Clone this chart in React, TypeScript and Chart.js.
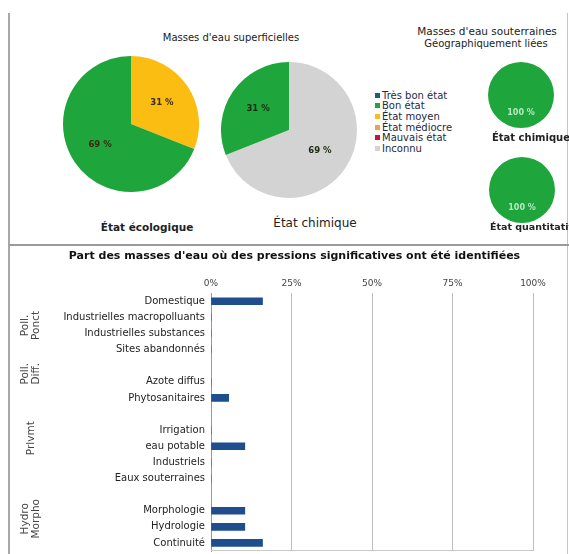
import React, { useEffect, useRef } from 'react';
import { Chart, registerables } from 'chart.js';

Chart.register(...registerables);

// ---------- data ----------
const stateLabels = ['Très bon état', 'Bon état', 'État moyen', 'État médiocre', 'Mauvais état', 'Inconnu'];
const stateColors = ['#1d5e78', '#1ea63c', '#fbbd12', '#f0a050', '#d01040', '#d3d3d3'];
const ecoValues = [0, 69, 31, 0, 0, 0];
const chemValues = [0, 31, 0, 0, 0, 69];
const gwChemValues = [0, 100, 0, 0, 0, 0];
const gwQuantValues = [0, 100, 0, 0, 0, 0];

const pressureLabels = [
  'Domestique', 'Industrielles macropolluants', 'Industrielles substances', 'Sites abandonnés', '',
  'Azote diffus', 'Phytosanitaires', '',
  'Irrigation', 'eau potable', 'Industriels', 'Eaux souterraines', '',
  'Morphologie', 'Hydrologie', 'Continuité',
];
const pressureValues = [16, 0, 0, 0, null, 0, 5.5, null, 0, 10.5, 0, 0, null, 10.5, 10.5, 16];
const groupLabels = [['Poll.', 'Ponct'], ['Poll.', 'Diff.'], ['Prlvmt'], ['Hydro', 'Morpho']];
const groupRanges = [[0, 3], [4, 5], [7, 10], [12, 15]];
const xTicks = [0, 25, 50, 75, 100];

const FONT = '"DejaVu Sans", sans-serif';

// ---------- plugins ----------
const sliceLabelPlugin = {
  id: 'sliceLabels',
  afterDatasetsDraw(chart: any, _args: any, opts: any) {
    const ctx = chart.ctx;
    const meta = chart.getDatasetMeta(0);
    const data = chart.data.datasets[0].data;
    ctx.save();
    ctx.font = `bold ${opts.size}px ${FONT}`;
    ctx.fillStyle = opts.color;
    ctx.textAlign = 'center';
    ctx.textBaseline = 'middle';
    meta.data.forEach((arc: any, i: number) => {
      const v = data[i];
      if (!v) return;
      const p = arc.getProps(['x', 'y', 'startAngle', 'endAngle', 'outerRadius'], true);
      const mid = (p.startAngle + p.endAngle) / 2;
      const r = p.outerRadius * opts.radial;
      ctx.fillText(`${v} %`, p.x + Math.cos(mid) * r, p.y + Math.sin(mid) * r);
    });
    ctx.restore();
  },
};

const groupLabelPlugin = {
  id: 'groupLabels',
  afterDraw(chart: any) {
    const ctx = chart.ctx;
    const y = chart.scales.y;
    ctx.save();
    ctx.font = `10.5px ${FONT}`;
    ctx.fillStyle = '#444';
    ctx.textAlign = 'center';
    ctx.textBaseline = 'middle';
    groupLabels.forEach((lines, g) => {
      const [a, b] = groupRanges[g];
      const cy = (y.getPixelForValue(a) + y.getPixelForValue(b)) / 2;
      lines.forEach((line, k) => {
        const cx = 31 + (k - (lines.length - 1) / 2) * 10.5;
        ctx.save();
        ctx.translate(cx, cy);
        ctx.rotate(-Math.PI / 2);
        ctx.fillText(line, 0, 0);
        ctx.restore();
      });
    });
    ctx.restore();
  },
};

const bottomLinePlugin = {
  id: 'bottomLine',
  afterDraw(chart: any) {
    const { ctx, chartArea } = chart;
    ctx.save();
    ctx.strokeStyle = '#c8c8c8';
    ctx.lineWidth = 1;
    ctx.beginPath();
    ctx.moveTo(chartArea.left, chartArea.bottom - 0.5);
    ctx.lineTo(chartArea.right, chartArea.bottom - 0.5);
    ctx.stroke();
    ctx.restore();
  },
};

// ---------- components ----------
function Pie({ values, left, top, size, labelColor, labelSize }: any) {
  const ref = useRef<HTMLCanvasElement>(null);
  useEffect(() => {
    const order = values.map((_: any, i: number) => i).reverse();
    const chart = new Chart(ref.current as HTMLCanvasElement, {
      type: 'pie',
      data: {
        labels: order.map((i: number) => stateLabels[i]),
        datasets: [{
          data: order.map((i: number) => values[i]),
          backgroundColor: order.map((i: number) => stateColors[i]),
          borderWidth: 0,
        }],
      },
      options: {
        responsive: false,
        animation: false,
        events: [],
        layout: { padding: 0 },
        plugins: {
          legend: { display: false },
          tooltip: { enabled: false },
          sliceLabels: { color: labelColor, size: labelSize, radial: 0.55 },
        } as any,
      },
      plugins: [sliceLabelPlugin],
    });
    return () => chart.destroy();
  }, []);
  return (
    <canvas
      ref={ref}
      width={size}
      height={size}
      style={{ position: 'absolute', left, top, width: size, height: size }}
    />
  );
}

function PressureChart() {
  const ref = useRef<HTMLCanvasElement>(null);
  useEffect(() => {
    const chart = new Chart(ref.current as HTMLCanvasElement, {
      type: 'bar',
      data: {
        labels: pressureLabels,
        datasets: [{
          data: pressureValues as any,
          backgroundColor: '#1f4e8f',
          barThickness: 7,
          borderWidth: 0,
        }],
      },
      options: {
        indexAxis: 'y',
        responsive: false,
        animation: false,
        events: [],
        layout: { padding: { top: 0, right: 36, bottom: 3, left: 56 } },
        plugins: {
          legend: { display: false },
          tooltip: { enabled: false },
          title: {
            display: true,
            text: "Part des masses d'eau où des pressions significatives ont été identifiées",
            font: { family: FONT, size: 11, weight: 'bold' },
            color: '#111',
            padding: { top: 4, bottom: 0 },
          },
        },
        scales: {
          x: {
            position: 'top',
            min: 0,
            max: 100,
            afterBuildTicks: (s: any) => { s.ticks = xTicks.map((v) => ({ value: v })); },
            afterFit: (s: any) => { s.height = 30; },
            ticks: {
              callback: (v: any) => `${v}%`,
              font: { family: FONT, size: 9 },
              color: '#444',
              padding: 4,
            },
            grid: { color: '#bdbdbd', drawTicks: false },
            border: { display: false },
          },
          y: {
            afterFit: (s: any) => { s.width = 155; s.paddingTop = 0; s.paddingBottom = 0; },
            ticks: {
              autoSkip: false,
              font: { family: FONT, size: 10 },
              color: '#222',
              padding: 6,
            },
            grid: { display: false, drawTicks: false },
            border: { color: '#999', width: 1 },
          },
        },
      } as any,
      plugins: [groupLabelPlugin, bottomLinePlugin],
    });
    return () => chart.destroy();
  }, []);
  return (
    <canvas
      ref={ref}
      width={569}
      height={308}
      style={{ position: 'absolute', left: 0, top: 246, width: 569, height: 308 }}
    />
  );
}

function Txt({ x, y, size, weight, color, align, children }: any) {
  const tx = align === 'left' ? '0' : '-50%';
  return (
    <div
      style={{
        position: 'absolute',
        left: x,
        top: y,
        transform: `translate(${tx}, -50%)`,
        whiteSpace: 'nowrap',
        fontSize: size,
        fontWeight: weight || 'normal',
        color: color || '#222',
        lineHeight: 1.1,
        fontFamily: FONT,
      }}
    >
      {children}
    </div>
  );
}

export default function App() {
  return (
    <div
      style={{
        position: 'absolute',
        left: 0,
        top: 0,
        width: 569,
        height: 554,
        overflow: 'hidden',
        background: '#fff',
        fontFamily: FONT,
      }}
    >
      <PressureChart />

      {/* frame */}
      <div style={{ position: 'absolute', left: 8, top: 13, width: 2, height: 541, background: '#a8a8a8' }} />
      <div style={{ position: 'absolute', left: 567, top: 13, width: 1, height: 541, background: '#c4c4c4' }} />
      <div style={{ position: 'absolute', left: 9, top: 244, width: 560, height: 2, background: '#9a9a9a' }} />

      {/* top section */}
      <Txt x={231} y={37} size={10}>Masses d'eau superficielles</Txt>
      <Txt x={487} y={32} size={10.5}>Masses d'eau souterraines</Txt>
      <Txt x={486} y={43} size={10}>Géographiquement liées</Txt>

      <Pie values={ecoValues} left={63} top={56} size={136} labelColor="#3a2a10" labelSize={8.5} />
      <Pie values={chemValues} left={221} top={62} size={136} labelColor="#1a2a10" labelSize={8.5} />
      <Pie values={gwChemValues} left={488} top={62} size={66} labelColor="rgba(235,255,235,0.75)" labelSize={8} />
      <Pie values={gwQuantValues} left={489} top={157} size={66} labelColor="rgba(235,255,235,0.75)" labelSize={8} />

      <Txt x={147} y={228} size={10.5} weight="bold">État écologique</Txt>
      <Txt x={315} y={224} size={12}>État chimique</Txt>
      <Txt x={492} y={137} size={10} weight="bold" align="left">État chimique</Txt>
      <Txt x={490} y={227} size={9.5} weight="bold" align="left">État quantitatif</Txt>

      {/* legend */}
      <div style={{ position: 'absolute', left: 375, top: 90 }}>
        {stateLabels.map((lab, i) => (
          <div key={lab} style={{ display: 'flex', alignItems: 'center', height: 10.6 }}>
            <div style={{ width: 5, height: 5, background: stateColors[i], marginRight: 2 }} />
            <span style={{ fontSize: 10, color: '#1e2a40', whiteSpace: 'nowrap', fontFamily: FONT }}>{lab}</span>
          </div>
        ))}
      </div>
    </div>
  );
}
